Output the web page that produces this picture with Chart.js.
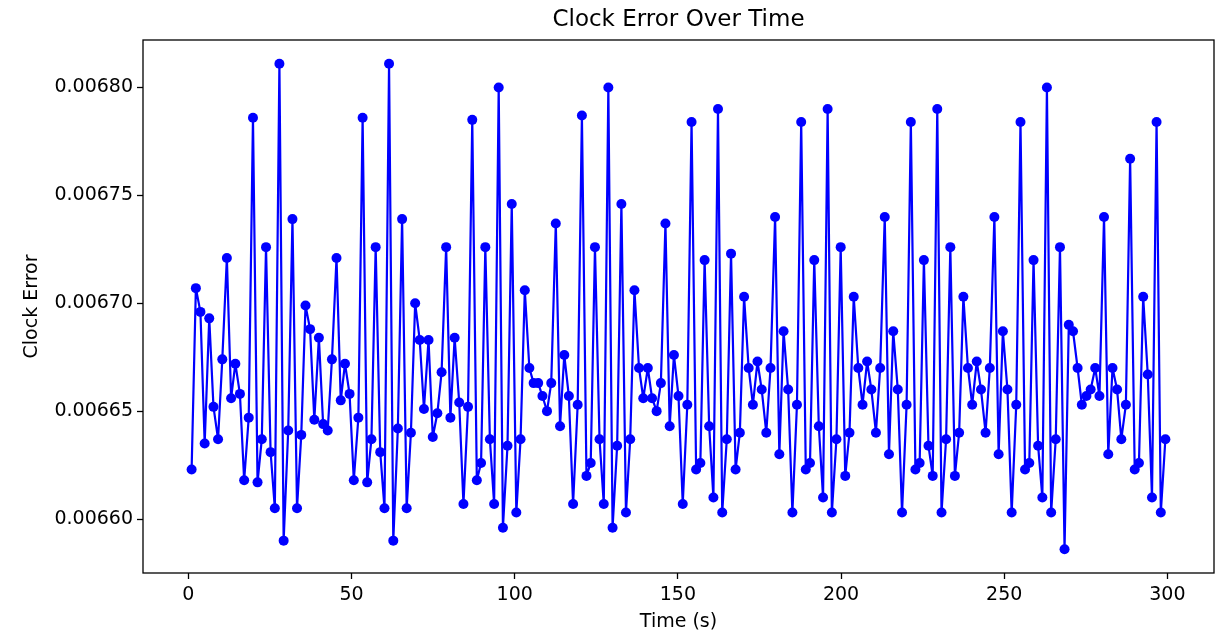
<!DOCTYPE html>
<html>
<head>
<meta charset="utf-8">
<title>Clock Error Over Time</title>
<script src="https://cdn.jsdelivr.net/npm/chart.js@4.4.1/dist/chart.umd.min.js"></script>
<style>
  html, body { margin: 0; padding: 0; background: #fff; }
  canvas { display: block; }
</style>
</head>
<body>
<canvas id="chartClockError" width="1219" height="633"></canvas>
<script>
// Tiempos de muestreo (s)
const timeSeconds = [
  1.0, 2.3, 3.7, 5.0, 6.4, 7.7, 9.1, 10.4, 11.8, 13.1, 14.4, 15.8, 17.1, 18.5, 19.8, 21.2, 22.5, 23.8, 25.2, 26.5, 27.9, 29.2, 30.6, 31.9, 33.3,
  34.6, 35.9, 37.3, 38.6, 40.0, 41.3, 42.7, 44.0, 45.4, 46.7, 48.0, 49.4, 50.7, 52.1, 53.4, 54.8, 56.1, 57.4, 58.8, 60.1, 61.5, 62.8, 64.2, 65.5, 66.9,
  68.2, 69.5, 70.9, 72.2, 73.6, 74.9, 76.3, 77.6, 79.0, 80.3, 81.6, 83.0, 84.3, 85.7, 87.0, 88.4, 89.7, 91.0, 92.4, 93.7, 95.1, 96.4, 97.8, 99.1, 100.5,
  101.8, 103.1, 104.5, 105.8, 107.2, 108.5, 109.9, 111.2, 112.6, 113.9, 115.2, 116.6, 117.9, 119.3, 120.6, 122.0, 123.3, 124.6, 126.0, 127.3, 128.7, 130.0, 131.4, 132.7, 134.1,
  135.4, 136.7, 138.1, 139.4, 140.8, 142.1, 143.5, 144.8, 146.2, 147.5, 148.8, 150.2, 151.5, 152.9, 154.2, 155.6, 156.9, 158.2, 159.6, 160.9, 162.3, 163.6, 165.0, 166.3, 167.7,
  169.0, 170.3, 171.7, 173.0, 174.4, 175.7, 177.1, 178.4, 179.8, 181.1, 182.4, 183.8, 185.1, 186.5, 187.8, 189.2, 190.5, 191.8, 193.2, 194.5, 195.9, 197.2, 198.6, 199.9, 201.3,
  202.6, 203.9, 205.3, 206.6, 208.0, 209.3, 210.7, 212.0, 213.4, 214.7, 216.0, 217.4, 218.7, 220.1, 221.4, 222.8, 224.1, 225.4, 226.8, 228.1, 229.5, 230.8, 232.2, 233.5, 234.9,
  236.2, 237.5, 238.9, 240.2, 241.6, 242.9, 244.3, 245.6, 247.0, 248.3, 249.6, 251.0, 252.3, 253.7, 255.0, 256.4, 257.7, 259.0, 260.4, 261.7, 263.1, 264.4, 265.8, 267.1, 268.5,
  269.8, 271.1, 272.5, 273.8, 275.2, 276.5, 277.9, 279.2, 280.6, 281.9, 283.2, 284.6, 285.9, 287.3, 288.6, 290.0, 291.3, 292.6, 294.0, 295.3, 296.7, 298.0, 299.4,
];

// Error de reloj en cada muestra
const clockError = [
  0.006623, 0.006707, 0.006696, 0.006635, 0.006693, 0.006652, 0.006637, 0.006674, 0.006721, 0.006656, 0.006672, 0.006658, 0.006618, 0.006647, 0.006786, 0.006617, 0.006637, 0.006726, 0.006631, 0.006605, 0.006811, 0.006590, 0.006641, 0.006739, 0.006605,
  0.006639, 0.006699, 0.006688, 0.006646, 0.006684, 0.006644, 0.006641, 0.006674, 0.006721, 0.006655, 0.006672, 0.006658, 0.006618, 0.006647, 0.006786, 0.006617, 0.006637, 0.006726, 0.006631, 0.006605, 0.006811, 0.006590, 0.006642, 0.006739, 0.006605,
  0.006640, 0.006700, 0.006683, 0.006651, 0.006683, 0.006638, 0.006649, 0.006668, 0.006726, 0.006647, 0.006684, 0.006654, 0.006607, 0.006652, 0.006785, 0.006618, 0.006626, 0.006726, 0.006637, 0.006607, 0.006800, 0.006596, 0.006634, 0.006746, 0.006603,
  0.006637, 0.006706, 0.006670, 0.006663, 0.006663, 0.006657, 0.006650, 0.006663, 0.006737, 0.006643, 0.006676, 0.006657, 0.006607, 0.006653, 0.006787, 0.006620, 0.006626, 0.006726, 0.006637, 0.006607, 0.006800, 0.006596, 0.006634, 0.006746, 0.006603,
  0.006637, 0.006706, 0.006670, 0.006656, 0.006670, 0.006656, 0.006650, 0.006663, 0.006737, 0.006643, 0.006676, 0.006657, 0.006607, 0.006653, 0.006784, 0.006623, 0.006626, 0.006720, 0.006643, 0.006610, 0.006790, 0.006603, 0.006637, 0.006723, 0.006623,
  0.006640, 0.006703, 0.006670, 0.006653, 0.006673, 0.006660, 0.006640, 0.006670, 0.006740, 0.006630, 0.006687, 0.006660, 0.006603, 0.006653, 0.006784, 0.006623, 0.006626, 0.006720, 0.006643, 0.006610, 0.006790, 0.006603, 0.006637, 0.006726, 0.006620,
  0.006640, 0.006703, 0.006670, 0.006653, 0.006673, 0.006660, 0.006640, 0.006670, 0.006740, 0.006630, 0.006687, 0.006660, 0.006603, 0.006653, 0.006784, 0.006623, 0.006626, 0.006720, 0.006634, 0.006620, 0.006790, 0.006603, 0.006637, 0.006726, 0.006620,
  0.006640, 0.006703, 0.006670, 0.006653, 0.006673, 0.006660, 0.006640, 0.006670, 0.006740, 0.006630, 0.006687, 0.006660, 0.006603, 0.006653, 0.006784, 0.006623, 0.006626, 0.006720, 0.006634, 0.006610, 0.006800, 0.006603, 0.006637, 0.006726, 0.006586,
  0.006690, 0.006687, 0.006670, 0.006653, 0.006657, 0.006660, 0.006670, 0.006657, 0.006740, 0.006630, 0.006670, 0.006660, 0.006637, 0.006653, 0.006767, 0.006623, 0.006626, 0.006703, 0.006667, 0.006610, 0.006784, 0.006603, 0.006637,
];

const xTicks = [0, 50, 100, 150, 200, 250, 300];
const yTicks = [0.0066, 0.00665, 0.0067, 0.00675, 0.0068];

const FONT = "'DejaVu Sans', sans-serif";

// Marco negro alrededor del área del gráfico (como matplotlib)
const axesFrame = {
  id: "axesFrame",
  afterDatasetsDraw(chart) {
    const { ctx, chartArea: a } = chart;
    ctx.save();
    ctx.strokeStyle = "#000";
    ctx.lineWidth = 1.3;
    ctx.strokeRect(a.left, a.top, a.right - a.left, a.bottom - a.top);
    ctx.restore();
  },
};

const tickGrid = {
  drawOnChartArea: false,
  drawTicks: true,
  tickLength: 6,
  tickWidth: 1.3,
  tickColor: "#000",
};

new Chart(document.getElementById("chartClockError"), {
  type: "line",
  data: {
    datasets: [
      {
        label: "Clock Error",
        data: timeSeconds.map((t, i) => ({ x: t, y: clockError[i] })),
        borderColor: "#0000ff",
        backgroundColor: "#0000ff",
        borderWidth: 2.2,
        borderJoinStyle: "round",
        pointRadius: 5,
        pointBorderWidth: 0,
        pointBackgroundColor: "#0000ff",
        tension: 0,
        fill: false,
      },
    ],
  },
  options: {
    responsive: false,
    animation: false,
    devicePixelRatio: 1,
    layout: { padding: { top: 0, right: 3, bottom: 0, left: 0 } },
    plugins: {
      legend: { display: false },
      tooltip: { enabled: false },
      title: {
        display: true,
        fullSize: false,
        text: "Clock Error Over Time",
        color: "#000",
        font: { family: FONT, size: 23, weight: "normal", lineHeight: 1.2 },
        padding: { top: 6.2, bottom: 6.2 },
      },
    },
    scales: {
      x: {
        type: "linear",
        min: -13.9,
        max: 314.3,
        afterFit: (s) => { s.height = 60; },
        afterBuildTicks: (s) => { s.ticks = xTicks.map((v) => ({ value: v })); },
        grid: tickGrid,
        border: { display: false },
        ticks: {
          color: "#000",
          font: { family: FONT, size: 19 },
          padding: 5,
          maxRotation: 0,
          autoSkip: false,
          callback: (v) => String(v),
        },
        title: {
          display: true,
          text: "Time (s)",
          color: "#000",
          font: { family: FONT, size: 19, lineHeight: 1.2 },
          padding: { top: 0, bottom: 0 },
        },
      },
      y: {
        min: 0.006575,
        max: 0.006822,
        afterFit: (s) => { s.width = 143; },
        afterBuildTicks: (s) => { s.ticks = yTicks.map((v) => ({ value: v })); },
        grid: tickGrid,
        border: { display: false },
        ticks: {
          color: "#000",
          font: { family: FONT, size: 19 },
          padding: 4,
          autoSkip: false,
          callback: (v) => v.toFixed(5),
        },
        title: {
          display: true,
          text: "Clock Error",
          color: "#000",
          font: { family: FONT, size: 19, lineHeight: 1.2 },
          padding: { top: 20.6, bottom: 0 },
        },
      },
    },
  },
  plugins: [axesFrame],
});
</script>
</body>
</html>
